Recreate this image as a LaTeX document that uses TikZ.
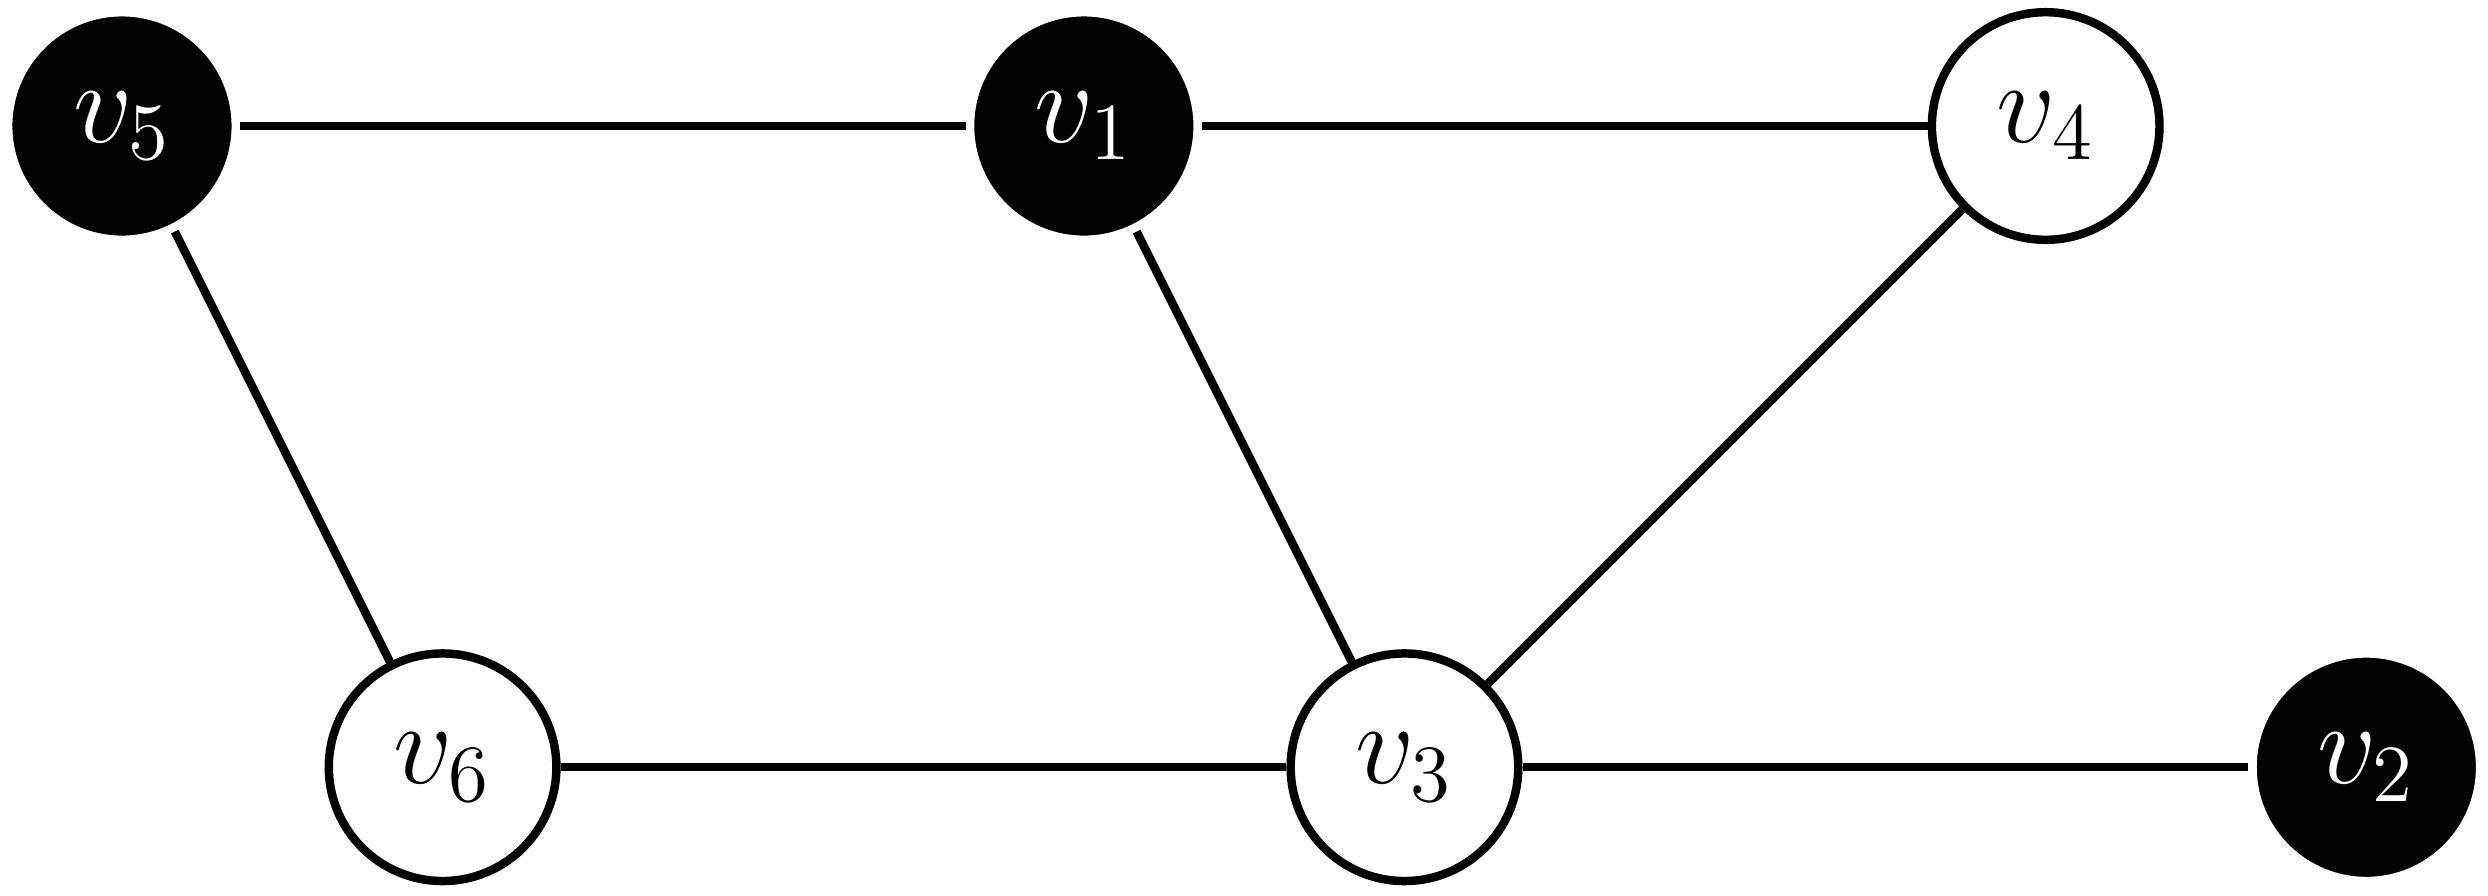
\documentclass[tikz,border=0pt]{standalone}
\DeclareMathSizes{20.6}{20.6}{15.7}{11}
\begin{document}
\begin{tikzpicture}[x=2cm,y=2cm,
  vtx/.style={circle, line width=1.5pt, minimum size=1.42cm, inner sep=0pt, font=\fontsize{20.6}{25}\selectfont},
  wvtx/.style={vtx, draw=black, fill=white, text=black},
  bvtx/.style={vtx, draw=white, fill=black, text=white},
  edge/.style={line width=1.5pt, draw=black}]
\useasboundingbox (-0.3805,-0.399) rectangle (7.3795,2.393);
\node[bvtx] (v5) at (0,2) {$v_5$};
\node[bvtx] (v1) at (3,2) {$v_1$};
\node[wvtx] (v4) at (6,2) {$v_4$};
\node[wvtx] (v6) at (1,0) {$v_6$};
\node[wvtx] (v3) at (4,0) {$v_3$};
\node[bvtx] (v2) at (7,0) {$v_2$};
\draw[edge] (v5) -- (v1);
\draw[edge] (v1) -- (v4);
\draw[edge] (v5) -- (v6);
\draw[edge] (v1) -- (v3);
\draw[edge] (v4) -- (v3);
\draw[edge] (v6) -- (v3);
\draw[edge] (v3) -- (v2);
\end{tikzpicture}
\end{document}
